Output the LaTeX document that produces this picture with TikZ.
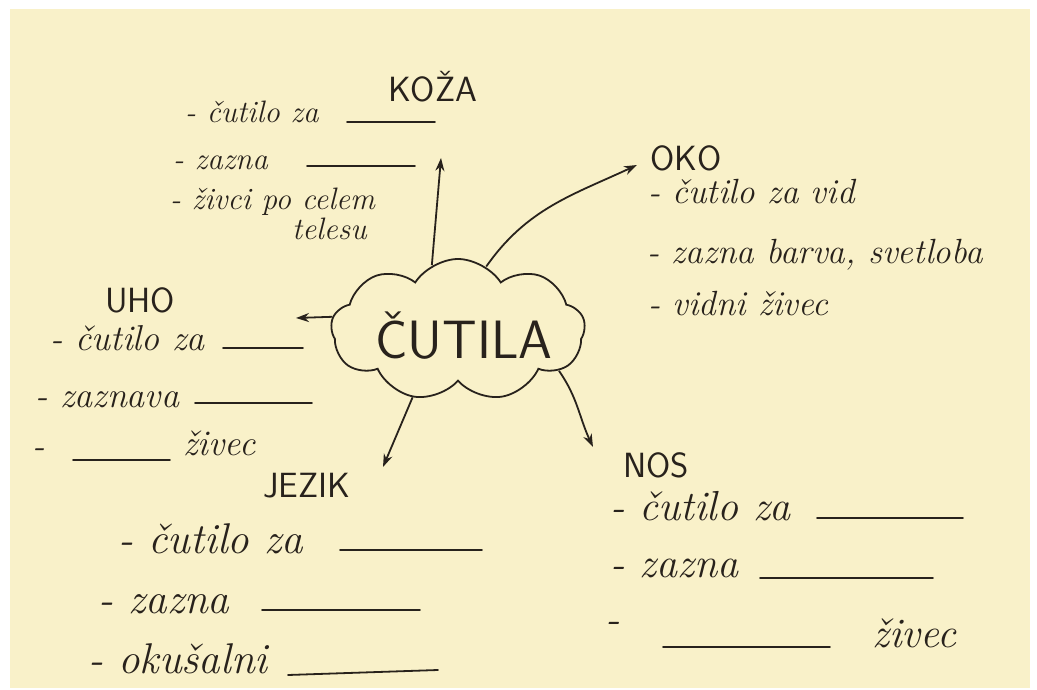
\documentclass[tikz,border=0pt]{standalone}
\usepackage{fontspec}
\usepackage{tikz}
\usetikzlibrary{arrows.meta,shapes.symbols}
\definecolor{paper}{RGB}{249,241,201}
\definecolor{ink}{RGB}{40,34,28}
\tikzset{
  organlabel/.style={font=\fontsize{35}{40}\selectfont\sffamily, text=ink, inner sep=0pt, anchor=base west},
  itemtext/.style={font=\fontsize{#1}{#1}\selectfont\itshape, text=ink, inner sep=0pt, anchor=base west},
  blankline/.style={draw=ink, line width=1.8pt, line cap=round},
  sensearrow/.style={draw=ink, line width=1.8pt, >={Stealth[length=13pt,width=9pt]}}
}

\begin{document}
\begin{tikzpicture}[x=1pt,y=-1pt]
  \useasboundingbox (0,0) rectangle (1037,690);
  \fill[white] (0,0) rectangle (1037,690);
  \fill[paper] (10,9) rectangle (1030,688);
  \node[cloud, cloud puffs=9, cloud puff arc=115, aspect=2, draw=ink, line width=1.8pt, minimum width=254pt, minimum height=142pt, inner sep=0pt] (bubble) at (458,330) {};
  \node[text=ink, font=\fontsize{54}{60}\selectfont\sffamily, inner sep=0pt] (cutila) at (464,336) {ČUTILA};
  \node[organlabel] (koza) at (388,102) {KOŽA};
  \node[organlabel] (oko) at (650,171) {OKO};
  \node[organlabel] (uho) at (105,312) {UHO};
  \node[organlabel] (jezik) at (263,497) {JEZIK};
  \node[organlabel] (nos) at (623,477) {NOS};
  \coordinate (kozatip) at (441,158);
  \coordinate (okotip) at (637,165);
  \coordinate (uhotip) at (296,318);
  \coordinate (jeziktip) at (383,467);
  \coordinate (nostip) at (593,447);
  \draw [sensearrow]
    (bubble.112) edge[->] (kozatip)
    (bubble.66) edge[->, out=55, in=205] (okotip)
    (bubble.174) edge[->] (uhotip)
    (bubble.236) edge[->] (jeziktip)
    (bubble.338) edge[->, out=-55, in=115] (nostip);
  \node[itemtext=31] (k1) at (185,123) {- čutilo za};
  \node[itemtext=31] (k2) at (173,170) {- zazna};
  \node[itemtext=31] (k3) at (170,210) {- živci po celem};
  \node[itemtext=31] (k4) at (292,240) {telesu};
  \node[itemtext=35] (o1) at (648,204) {- čutilo za vid};
  \node[itemtext=35] (o2) at (647,263) {- zazna barva, svetloba};
  \node[itemtext=35] (o3) at (648,315) {- vidni živec};
  \node[itemtext=36] (u1) at (50,350) {- čutilo za};
  \node[itemtext=36] (u2) at (35,407) {- zaznava};
  \node[itemtext=36] (u3) at (32,457) {-};
  \node[itemtext=36] (u4) at (183,455) {živec};
  \node[itemtext=43] (j1) at (118,553) {- čutilo za};
  \node[itemtext=43] (j2) at (98,613) {- zazna};
  \node[itemtext=43] (j3) at (88,673) {- okušalni};
  \node[itemtext=42] (n1) at (610,520) {- čutilo za};
  \node[itemtext=42] (n2) at (610,577) {- zazna};
  \node[itemtext=42] (n3) at (605,632) {-};
  \node[itemtext=42] (n4) at (872,647) {živec};
  \draw [blankline]
    (347,122) -- (435,122)
    (307,166) -- (415,166)
    (223,348) -- (303,348)
    (195,403) -- (312,403)
    (73,460) -- (170,460)
    (340,550) -- (482,550)
    (262,610) -- (420,610)
    (288,675) -- (438,670)
    (817,518) -- (963,518)
    (760,578) -- (933,578)
    (663,647) -- (830,647);
\end{tikzpicture}
\end{document}
